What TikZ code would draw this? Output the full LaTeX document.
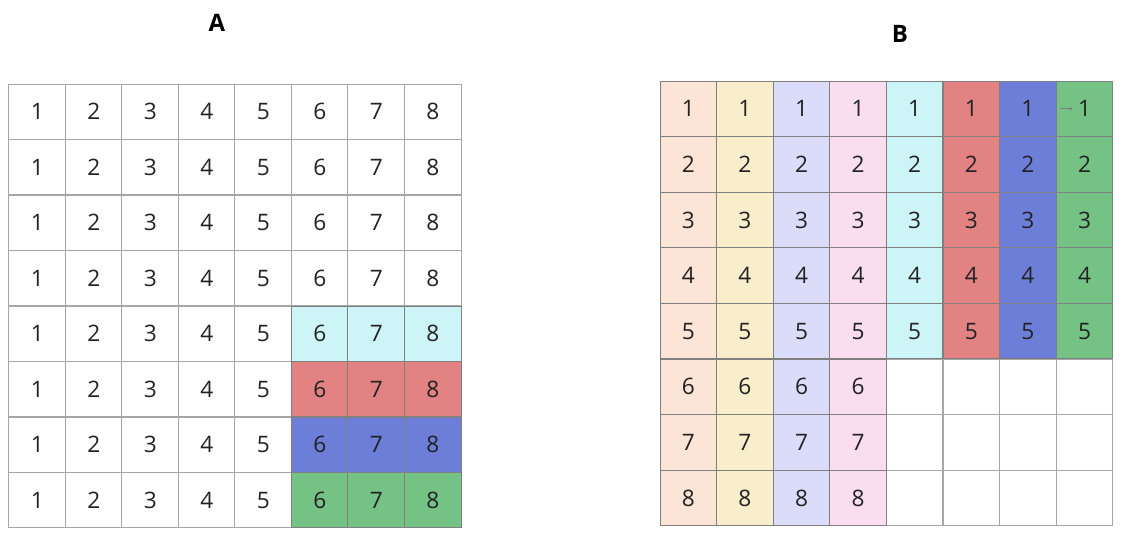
\documentclass[tikz,border=0pt]{standalone}
\usepackage{fontspec}
\setmainfont{Open Sans}
\usetikzlibrary{arrows.meta}

\definecolor{peach}{RGB}{252,228,214}
\definecolor{sand}{RGB}{248,238,204}
\definecolor{lilac}{RGB}{218,220,250}
\definecolor{rose}{RGB}{250,221,238}
\definecolor{aqua}{RGB}{205,244,246}
\definecolor{coral}{RGB}{227,130,131}
\definecolor{indigo}{RGB}{108,126,216}
\definecolor{leaf}{RGB}{117,194,133}
\definecolor{gridline}{RGB}{166,166,166}
\definecolor{darkline}{RGB}{128,128,128}

\tikzset{every picture/.style={line width=0.75pt}}
\tikzset{
  cell/.style={draw=gridline, fill=white, minimum width=42.4pt, minimum height=41.6pt,
    inner sep=0pt, outer sep=0pt, text={rgb,255:red,34;green,34;blue,34}, font=\fontsize{17}{20}\selectfont},
  tint/.style={cell, draw=darkline, fill=#1},
  title/.style={inner sep=0.75pt, font=\fontsize{18}{20}\selectfont\bfseries}
}

\begin{document}
\begin{tikzpicture}[x=0.75pt,y=0.75pt,yscale=-1,xscale=1]
\useasboundingbox (0,0) rectangle (1134,544);

% Text Node
\node [title] (titleA) at (217,23) {A};
% Text Node
\node [title] (titleB) at (900,34) {B};

%Grid A: plain cells
\foreach \r in {1,...,8}
  \foreach \c in {1,...,8}
    \node [cell] (a-\r-\c) at ({9+56.5*(\c-0.5)},{84+55.5*(\r-0.5)}) {\c};
%Grid A: coloured rows
\foreach \r/\col in {5/aqua,6/coral,7/indigo,8/leaf}
  \foreach \c in {6,7,8}
    \node [tint=\col] (a-\r-\c) at ({9+56.5*(\c-0.5)},{84+55.5*(\r-0.5)}) {\c};

%Grid B: empty cells
\foreach \r in {6,7,8}
  \foreach \c in {5,...,8}
    \node [cell] (b-\r-\c) at ({660+56.6*(\c-0.5)},{81+55.6*(\r-0.5)}) {};
%Grid B: long columns
\foreach \c/\col in {1/peach,2/sand,3/lilac,4/rose}
  \foreach \r in {1,...,8}
    \node [tint=\col] (b-\r-\c) at ({660+56.6*(\c-0.5)},{81+55.6*(\r-0.5)}) {\r};
%Grid B: short columns
\foreach \c/\col in {5/aqua,6/coral,7/indigo,8/leaf}
  \foreach \r in {1,...,5}
    \node [tint=\col] (b-\r-\c) at ({660+56.6*(\c-0.5)},{81+55.6*(\r-0.5)}) {\r};

%Straight Lines
\coordinate (tail) at ([xshift=3]b-1-8.west);
\draw [darkline, line width=0.6pt, -{Latex[length=2.5pt,width=2.5pt]}] (tail) -- ++(13,0);

\end{tikzpicture}
\end{document}
